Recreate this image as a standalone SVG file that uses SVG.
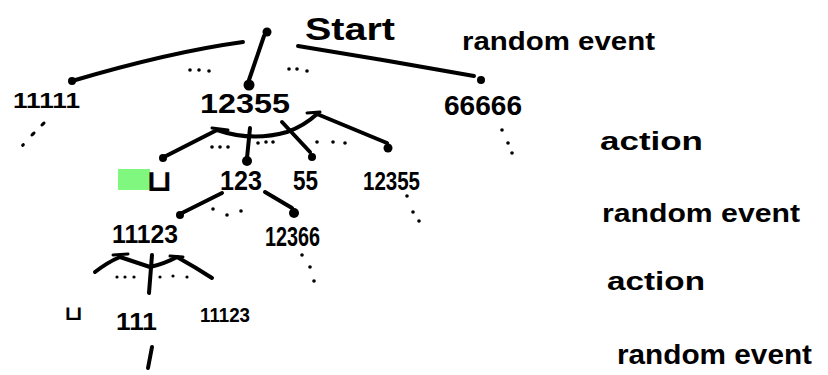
<svg xmlns="http://www.w3.org/2000/svg" width="828" height="375" viewBox="0 0 828 375">
<style>
text{font-family:"Liberation Sans","DejaVu Sans",sans-serif;font-weight:bold;fill:#000}
text.c{font-family:"DejaVu Sans",sans-serif}
.e{fill:none;stroke:#000;stroke-width:4;stroke-linecap:round;stroke-linejoin:round}
.t{fill:none;stroke:#000;stroke-width:3;stroke-linecap:round}
.d{fill:#000}
</style>
<rect width="828" height="375" fill="#fff"/>
<g id="connectors">
<path class="e" d="M72 81 Q170 52 243 42"/>
<path class="e" d="M264 36 L249 80"/>
<path class="e" d="M298 46 Q385 60 474 76"/>
<path class="e" d="M164 157 L217 130"/>
<path class="t" d="M212 128 L228 130"/>
<path class="e" d="M217 130 Q252 142 287 132 Q304 126 317 114 L387 143"/>
<path class="t" d="M307 113 L320 112"/>
<path class="e" d="M250 128 L247 158"/>
<path class="e" d="M282 122 L310 152"/>
<path class="e" d="M222 193 L180 214"/>
<path class="e" d="M265 192 L292 208"/>
<path class="e" d="M95 272 Q108 262 120 257 Q135 262 150 267 Q164 264 177 257 Q195 267 212 278"/>
<path class="t" d="M113 255 L128 254"/>
<path class="t" d="M170 256 L183 257"/>
<path class="e" d="M152 255 L149 293"/>
<path class="e" d="M152 347 L148 368"/>
<g class="d">
<circle cx="190" cy="70" r="1.8"/><circle cx="199" cy="70" r="1.8"/><circle cx="209" cy="71" r="1.8"/>
<circle cx="289" cy="69" r="1.8"/><circle cx="297" cy="69" r="1.8"/><circle cx="307" cy="71" r="1.8"/>
<ellipse cx="43" cy="124" rx="3" ry="1.6" transform="rotate(-40 43 124)"/>
<ellipse cx="33" cy="134" rx="3" ry="1.6" transform="rotate(-40 33 134)"/>
<ellipse cx="23" cy="145" rx="2" ry="1.6" transform="rotate(-40 23 145)"/>
<circle cx="502" cy="130" r="1.8"/><circle cx="508" cy="143" r="1.8"/><circle cx="512" cy="153" r="1.8"/>
<circle cx="212" cy="147" r="1.8"/><circle cx="220" cy="147" r="1.8"/><circle cx="228" cy="147" r="1.8"/>
<circle cx="258" cy="143" r="1.8"/><circle cx="266" cy="142" r="1.8"/><circle cx="273" cy="142" r="1.8"/>
<circle cx="317" cy="142" r="1.8"/><circle cx="333" cy="142" r="1.8"/><circle cx="345" cy="143" r="1.8"/>
<circle cx="213" cy="209" r="1.8"/><circle cx="227" cy="215" r="1.8"/><circle cx="241" cy="211" r="1.8"/>
<circle cx="407" cy="196" r="1.8"/><circle cx="413" cy="212" r="1.8"/><circle cx="419" cy="221" r="1.8"/>
<circle cx="302" cy="255" r="1.8"/><circle cx="310" cy="267" r="1.8"/><circle cx="314" cy="281" r="1.8"/>
<circle cx="117" cy="277" r="1.6"/><circle cx="125" cy="277" r="1.6"/><circle cx="134" cy="277" r="1.6"/>
<circle cx="160" cy="277" r="1.6"/><circle cx="173" cy="276" r="1.6"/><circle cx="187" cy="277" r="1.6"/>
</g>
</g>
<g id="start"><circle class="d" cx="267" cy="32" r="4.5"/><text x="305" y="40" font-size="32" textLength="90" lengthAdjust="spacingAndGlyphs">Start</text></g>
<g id="n11111"><circle class="d" cx="72" cy="81" r="4"/><text x="13" y="108" font-size="22" textLength="67" lengthAdjust="spacingAndGlyphs">11111</text></g>
<g id="n12355"><circle class="d" cx="249" cy="85" r="5.5"/><text x="200" y="113" font-size="27" textLength="90" lengthAdjust="spacingAndGlyphs">12355</text></g>
<g id="n66666"><circle class="d" cx="481" cy="80" r="4"/><text x="444" y="115" font-size="28" textLength="78" lengthAdjust="spacingAndGlyphs">66666</text></g>
<g id="a_empty"><rect x="118" y="169" width="32" height="21" fill="#80f880"/><rect x="118" y="186" width="6" height="4" fill="#80f880"/><text class="c" x="146" y="191" font-size="30" textLength="27" lengthAdjust="spacingAndGlyphs">⊔</text><circle class="d" cx="163" cy="158" r="4"/></g>
<g id="a123"><circle class="d" cx="247" cy="161" r="5"/><text x="220" y="190" font-size="28" textLength="42" lengthAdjust="spacingAndGlyphs">123</text></g>
<g id="a55"><circle class="d" cx="312" cy="157" r="4"/><text x="293" y="190" font-size="28" textLength="25" lengthAdjust="spacingAndGlyphs">55</text></g>
<g id="a12355"><circle class="d" cx="388" cy="148" r="4.5"/><text x="363" y="190" font-size="26" textLength="57" lengthAdjust="spacingAndGlyphs">12355</text></g>
<g id="r11123"><circle class="d" cx="180" cy="215" r="4"/><text x="112" y="243" font-size="26" textLength="66" lengthAdjust="spacingAndGlyphs">11123</text></g>
<g id="r12366"><circle class="d" cx="294" cy="213" r="5"/><text x="265" y="246" font-size="27" textLength="55" lengthAdjust="spacingAndGlyphs">12366</text></g>
<g id="b_empty"><text class="c" x="64" y="320" font-size="20" textLength="19" lengthAdjust="spacingAndGlyphs">⊔</text></g>
<g id="b111"><text x="116" y="330" font-size="24" textLength="41" lengthAdjust="spacingAndGlyphs">111</text></g>
<g id="b11123"><text x="200" y="322" font-size="20" textLength="50" lengthAdjust="spacingAndGlyphs">11123</text></g>
<g id="labels">
<text x="462" y="50" font-size="25" textLength="193" lengthAdjust="spacingAndGlyphs">random event</text>
<text x="600" y="150" font-size="26" textLength="103" lengthAdjust="spacingAndGlyphs">action</text>
<text x="602" y="222" font-size="26" textLength="198" lengthAdjust="spacingAndGlyphs">random event</text>
<text x="607" y="290" font-size="26" textLength="98" lengthAdjust="spacingAndGlyphs">action</text>
<text x="617" y="364" font-size="27" textLength="195" lengthAdjust="spacingAndGlyphs">random event</text>
</g>
</svg>
